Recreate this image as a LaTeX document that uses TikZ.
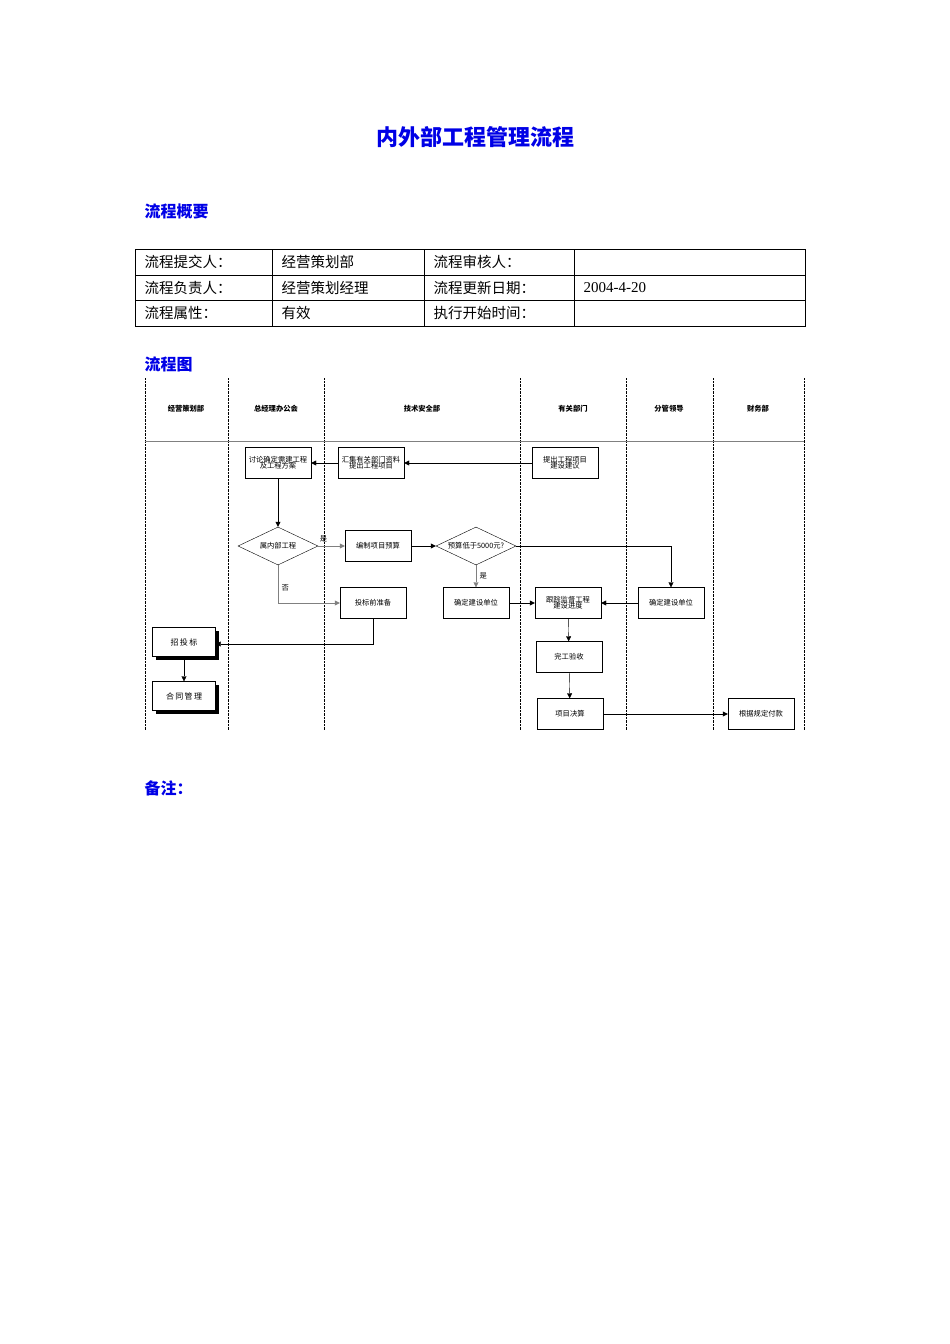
\documentclass[tikz,border=0pt]{standalone}
\usepackage{fontspec}
\setmainfont{Liberation Serif}
\newfontfamily\cjk{Noto Sans CJK SC}
\usetikzlibrary{positioning,shapes.geometric,arrows.meta,shadows}
\definecolor{titleblue}{RGB}{0,0,230}
\tikzset{
    stepbox/.style={
        rectangle,
        draw, % 边框
        fill=white,
        minimum width=66pt,
        minimum height=31pt,
        inner sep=1pt,
        align=center,
        font=\cjk\fontsize{7.3}{8}\selectfont
    },
    shadowbox/.style={
        stepbox,
        minimum width=63pt,
        minimum height=29pt,
        font=\cjk\fontsize{8}{9}\selectfont,
        drop shadow={shadow xshift=3pt,shadow yshift=-3pt,fill=black,opacity=1}
    },
    decide/.style={
        diamond,
        draw,
        fill=white,
        aspect=2.1,
        minimum width=80pt,
        minimum height=38pt,
        inner sep=0,
        font=\cjk\fontsize{7.3}{8}\selectfont
    },
    flow/.style={-{Triangle[length=5pt,width=5pt]}, thin},
    grayflow/.style={flow, draw=gray},
    lane/.style={densely dotted, thin},
    lanehead/.style={font=\cjk\bfseries\fontsize{7.3}{8}\selectfont},
    edgelabel/.style={font=\cjk\fontsize{7.3}{8}\selectfont, text=black},
    heading/.style={anchor=west, text=titleblue, font=\cjk\bfseries\fontsize{16}{18}\selectfont},
    cell/.style={anchor=west, font=\cjk\fontsize{14.5}{16}\selectfont}
}
\begin{document}
\begin{tikzpicture}[x=1pt, y=-1pt]
    \useasboundingbox (0,0) rectangle (950,1344);
    % 标题
    \node[text=titleblue, font=\cjk\bfseries\fontsize{22}{26}\selectfont] (title) at (475,137) {内外部工程管理流程};
    \node[heading] (summary) at (141,211) {流程概要};
    % 表格
    \draw (135,249) rectangle (805,326);
    \foreach \y in {275,300} \draw (135,\y) -- (805,\y);
    \foreach \x in {272,424,574} \draw (\x,249) -- (\x,326);
    \node[cell] (c11) at (141,262) {流程提交人：};
    \node[cell] (c12) at (278,262) {经营策划部};
    \node[cell] (c13) at (430,262) {流程审核人：};
    \node[cell] (c21) at (141,288) {流程负责人：};
    \node[cell] (c22) at (278,288) {经营策划经理};
    \node[cell] (c23) at (430,288) {流程更新日期：};
    \node[cell, font=\fontsize{15}{17}\selectfont] (c24) at (580,288) {2004-4-20};
    \node[cell] (c31) at (141,313) {流程属性：};
    \node[cell] (c32) at (278,313) {有效};
    \node[cell] (c33) at (430,313) {执行开始时间：};
    \node[heading] (chart) at (141,364) {流程图};
    \node[heading] (note) at (141,788) {备注：};
    % 泳道
    \foreach \x in {145,228,324,520,626,713,804} \draw[lane] (\x,378) -- (\x,730);
    \draw[gray] (145,441) -- (804,441);
    \node[lanehead] (l1) at (186,409) {经营策划部};
    \node[lanehead] (l2) at (276,409) {总经理办公会};
    \node[lanehead] (l3) at (422,409) {技术安全部};
    \node[lanehead] (l4) at (573,409) {有关部门};
    \node[lanehead] (l5) at (669,409) {分管领导};
    \node[lanehead] (l6) at (758,409) {财务部};
    % 节点
    \node[stepbox] (discuss) at (278,463) {讨论确定需建工程\\[-2pt]及工程方案};
    \node[stepbox] (collect) at (371,463) {汇集有关部门资料\\[-2pt]提出工程项目};
    \node[stepbox] (propose) at (565,463) {提出工程项目\\[-2pt]建设建议};
    \node[decide] (internal) at (278,546) {属内部工程};
    \node[stepbox] (budget) at (378,546) {编制项目预算};
    \node[decide] (under) at (476,546) {预算低于5000元?};
    \node[stepbox] (prebid) at (373,603) {投标前准备};
    \node[stepbox] (unitA) at (476,603) {确定建设单位};
    \node[stepbox] (track) at (568,603) {跟踪监督工程\\[-2pt]建设进度};
    \node[stepbox] (unitB) at (671,603) {确定建设单位};
    \node[shadowbox] (bid) at (184,642) {招\,投\,标};
    \node[shadowbox] (contract) at (184,696) {合\,同\,管\,理};
    \node[stepbox] (accept) at (569,657) {完工验收};
    \node[stepbox] (settle) at (570,714) {项目决算};
    \node[stepbox] (pay) at (761,714) {根据规定付款};
    % 连线
    \draw[flow] (propose) -- (collect);
    \draw[flow] (collect) -- (discuss);
    \draw[flow] (discuss) -- (internal);
    \draw[grayflow] (internal) -- node[above, pos=0.2, edgelabel] {是} (budget);
    \draw[grayflow] (internal) |- node[right, pos=0.3, edgelabel] {否} (prebid);
    \draw[flow] (budget) -- (under);
    \draw[grayflow] (under) -- node[right, edgelabel] {是} (unitA);
    \draw[flow] (under.east) -| (unitB);
    \draw[flow] (unitA) -- (track);
    \draw[flow] (unitB) -- (track);
    \draw[flow] (track) -- (accept);
    \draw[flow] (accept) -- (settle);
    \draw[flow] (settle) -- (pay);
    \draw[flow] (prebid) |- (bid.east |- 0,644);
    \draw[flow] (bid) -- (contract);
\end{tikzpicture}
\end{document}
